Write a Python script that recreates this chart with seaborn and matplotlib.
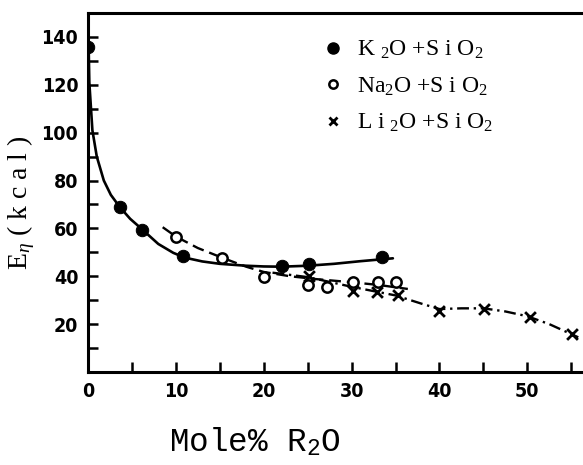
import matplotlib
matplotlib.use("Agg")
import matplotlib.pyplot as plt
import seaborn as sns
from matplotlib.lines import Line2D
from matplotlib.ticker import MultipleLocator

# ---- data ----
k_x = [0, 3.6, 6.1, 10.8, 22.1, 25.2, 33.5]
k_y = [136, 69, 59.5, 48.6, 44.1, 45.1, 47.9]
na_x = [10.0, 15.3, 20.0, 25.0, 27.2, 30.2, 33.0, 35.0]
na_y = [56.3, 47.7, 39.5, 36.4, 35.7, 37.7, 37.8, 37.7]
li_x = [25.1, 30.2, 32.9, 35.3, 40.0, 45.1, 50.3, 55.1]
li_y = [40.2, 33.9, 33.6, 32.2, 25.5, 26.2, 23.1, 15.7]

# fitted curves as drawn in the reference
kc_x = [0.05, 0.15, 0.5, 1.0, 1.8, 2.6, 3.6, 4.8, 6.1, 8.0, 9.7, 11.0, 13.0, 15.0, 18.0, 20.0, 22.0, 25.0, 28.0, 31.0, 34.7]
kc_y = [140, 121, 101, 90, 80, 74, 69, 64, 59.8, 53.5, 49.8, 47.8, 46.2, 45.2, 44.4, 44.1, 44.0, 44.4, 45.2, 46.3, 47.5]
nac_x = [8.5, 10.0, 12.5, 15.3, 18.0, 20.0, 23.0, 26.0, 30.0, 33.0, 36.4]
nac_y = [60.5, 56.6, 51.8, 47.7, 44.0, 41.8, 40.0, 38.8, 37.5, 36.4, 34.7]
lic_x = [21.0, 25.1, 30.0, 35.0, 38.0, 40.0, 42.5, 45.0, 47.5, 50.0, 52.5, 55.8]
lic_y = [41.5, 39.6, 35.6, 32.0, 28.5, 26.3, 26.6, 26.6, 25.3, 23.3, 20.0, 14.5]

x_ticklabels = [0, 10, 20, 30, 40, 50]
y_ticklabels = [20, 40, 60, 80, 100, 120, 140]
legend_labels = ["K $_2$O +S i O$_2$", "Na$_2$O +S i O$_2$", "L i $_2$O +S i O$_2$"]

sns.set_style("ticks", {"axes.edgecolor": "black", "xtick.color": "black", "ytick.color": "black",
                        "text.color": "black", "axes.labelcolor": "black"})
plt.rcParams['font.family'] = ['DejaVu Sans']
plt.rcParams['mathtext.fontset'] = 'custom'
plt.rcParams['mathtext.rm'] = 'Liberation Serif'
plt.rcParams['mathtext.it'] = 'Liberation Serif:italic'
plt.rcParams['mathtext.tt'] = 'Liberation Mono'

fig = plt.figure(figsize=(5.83, 4.65), dpi=100)
ax = fig.add_axes([88 / 583, 1 - 372 / 465, 1 - 88 / 583 + 0.01, (372 - 13) / 465])

sns.lineplot(x=kc_x, y=kc_y, ax=ax, color="black", lw=1.9, sort=False, estimator=None)
sns.lineplot(x=nac_x, y=nac_y, ax=ax, color="black", lw=1.7, sort=False, estimator=None,
             linestyle=(0, (5, 2.5)))
sns.lineplot(x=lic_x, y=lic_y, ax=ax, color="black", lw=1.7, sort=False, estimator=None,
             linestyle=(0, (5, 2, 1, 2)))

sns.scatterplot(x=k_x, y=k_y, ax=ax, color="black", s=80, marker="o", edgecolor="black", zorder=5)
sns.scatterplot(x=na_x, y=na_y, ax=ax, facecolor="white", edgecolor="black", s=55, marker="o",
                linewidth=1.8, zorder=6)
sns.scatterplot(x=li_x, y=li_y, ax=ax, color="black", s=60, marker="x", linewidth=2.0, zorder=7)

ax.set_xlim(0, 57)
ax.set_ylim(0, 150)
ax.set_xticks(x_ticklabels)
ax.set_xticklabels([str(v) for v in x_ticklabels])
ax.set_yticks(y_ticklabels)
ax.set_yticklabels([str(v) for v in y_ticklabels])
ax.xaxis.set_minor_locator(MultipleLocator(5))
ax.yaxis.set_minor_locator(MultipleLocator(10))
ax.tick_params(axis="both", which="both", direction="in", width=1.8, color="black",
               bottom=True, left=True, top=False, right=False, labelcolor="black")
ax.tick_params(axis="both", which="major", length=7, labelsize=14, pad=7)
ax.tick_params(axis="both", which="minor", length=7)
for lab in ax.get_xticklabels() + ax.get_yticklabels():
    lab.set_fontweight("bold")
    lab.set_fontstretch("condensed")
    lab.set_family(["DejaVu Sans"])

for side in ["left", "bottom", "top"]:
    ax.spines[side].set_visible(True)
    ax.spines[side].set_linewidth(2.2)
    ax.spines[side].set_color("black")
ax.spines["right"].set_visible(False)
ax.set_xlabel("")
ax.set_ylabel("")

# legend
handles = [
    Line2D([], [], marker="o", color="black", linestyle="none", markersize=8),
    Line2D([], [], marker="o", markerfacecolor="white", markeredgecolor="black", markeredgewidth=1.8,
           linestyle="none", markersize=6),
    Line2D([], [], marker="x", color="black", markeredgewidth=2, linestyle="none", markersize=6),
]
ax.legend(handles, legend_labels, loc="upper left", bbox_to_anchor=(320 / 583, 1 - 39 / 465),
          bbox_transform=fig.transFigure, frameon=False,
          prop={"family": "Liberation Serif", "size": 17}, handletextpad=0.45,
          labelspacing=0.6, handlelength=1.1, borderpad=0, borderaxespad=0)

fig.text(21 / 583, 1 - 203 / 465, "E$_\\eta$ ( k c a l )", rotation=90, ha="center", va="center",
         fontsize=20, family="Liberation Serif")
fig.text(255 / 583, 1 - 442 / 465, "Mole% R$_\\mathtt{2}$O", ha="center", va="center",
         fontsize=23.5, family="Liberation Mono")

fig.savefig("out.png", dpi=100)
